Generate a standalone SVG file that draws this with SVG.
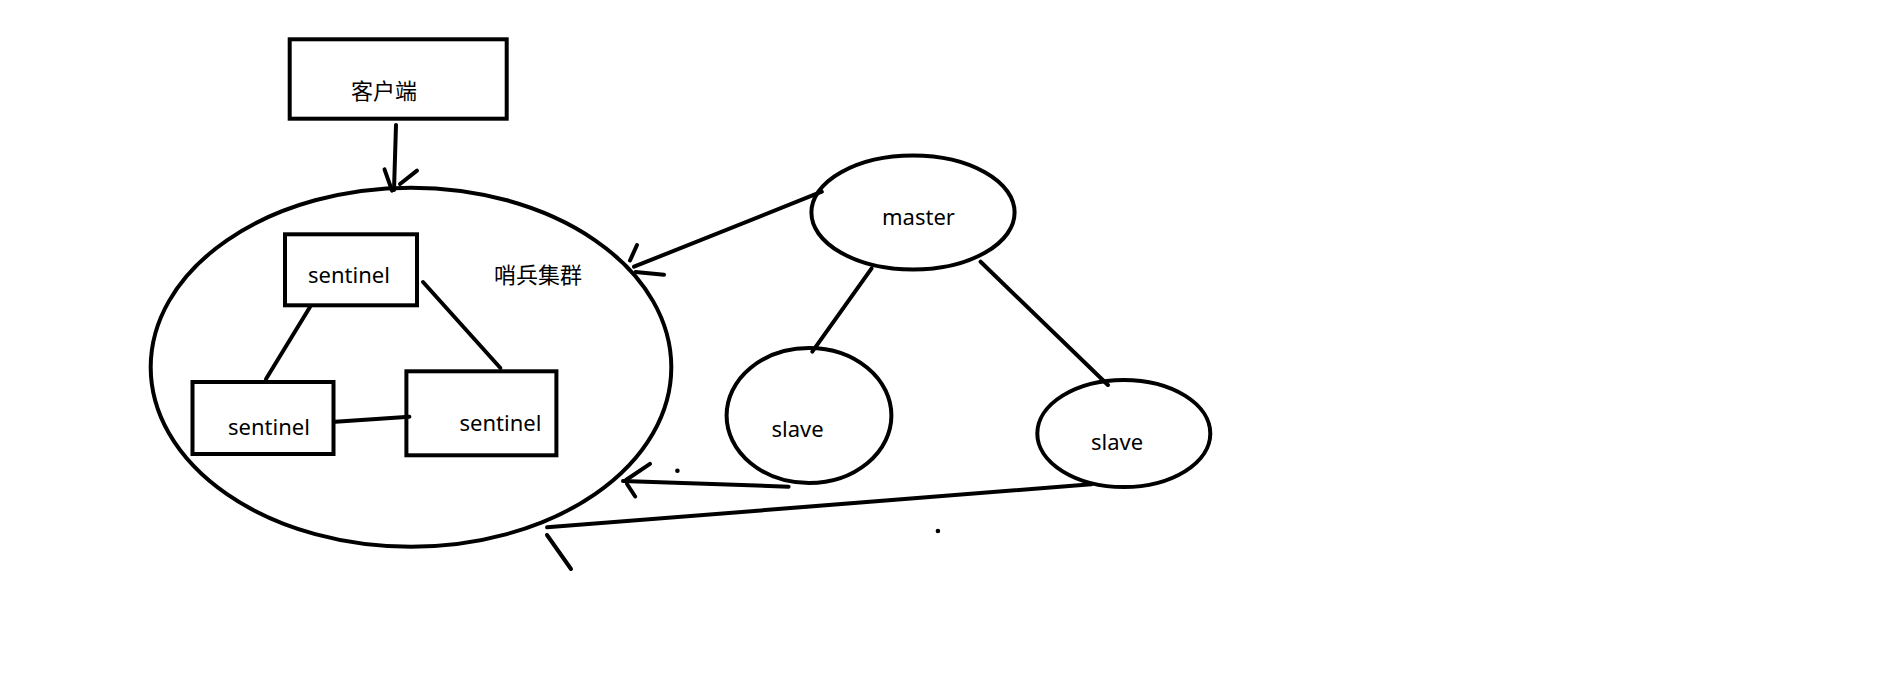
<svg xmlns="http://www.w3.org/2000/svg" width="1903" height="674" viewBox="0 0 1903 674">
<style>
.s{fill:none;stroke:#000;stroke-width:4;stroke-linecap:round;stroke-linejoin:round}
.n{fill:#fff;stroke:#000;stroke-width:4}
.t{font-family:"Noto Sans","Noto Sans CJK SC",sans-serif;font-size:22px;fill:#000}
.d{fill:#000}
</style>
<rect width="1903" height="674" fill="#fff"/>
<g id="cluster">
<ellipse class="n" cx="411" cy="367.2" rx="260.3" ry="179.5"/>
<text class="t" x="494" y="283">哨兵集群</text>
</g>
<g id="client">
<rect class="n" x="289.7" y="39.3" width="217" height="79.4"/>
<text class="t" x="351" y="99">客户端</text>
</g>
<g id="sentinel1">
<rect class="n" x="285" y="234.3" width="132" height="71"/>
<text class="t" x="308" y="283">sentinel</text>
</g>
<g id="sentinel2">
<rect class="n" x="192.5" y="382" width="141" height="72"/>
<text class="t" x="228" y="435">sentinel</text>
</g>
<g id="sentinel3">
<rect class="n" x="406.4" y="371.3" width="150" height="84"/>
<text class="t" x="459.5" y="431">sentinel</text>
</g>
<g id="master">
<ellipse class="n" cx="913" cy="212.5" rx="101.6" ry="57"/>
<text class="t" x="882" y="225">master</text>
</g>
<g id="slave1">
<ellipse class="n" cx="809" cy="415.5" rx="82.4" ry="67.5"/>
<text class="t" x="771.5" y="436.5">slave</text>
</g>
<g id="slave2">
<ellipse class="n" cx="1123.8" cy="433.5" rx="86.5" ry="53.5"/>
<text class="t" x="1091" y="450">slave</text>
</g>
<g id="connectors">
<path class="s" d="M396 125 L394 190"/>
<path class="s" d="M384.5 169.3 L392 190.7 M417 170.7 L400 184"/>
<path class="s" d="M310 307 L266 379"/>
<path class="s" d="M423 282 L500.4 368"/>
<path class="s" d="M335.5 421.7 L409.4 416.7"/>
<path class="s" d="M821.8 191.7 L634 266.7"/>
<path class="s" d="M637 245 L630 260.5 M635.5 272 L664 274.8"/>
<path class="s" d="M871.6 268.3 L812.3 351.7"/>
<path class="s" d="M980.6 261.7 L1107.9 385"/>
<path class="s" d="M788.6 486.7 L623 481"/>
<path class="s" d="M650 463.8 L626 480 M627 484 L635.2 496.5"/>
<path class="s" d="M1091.3 484.3 L547.1 527.3"/>
<path class="s" d="M547 535 L571 569"/>
<circle class="d" cx="677.4" cy="470.7" r="2.3"/>
<circle class="d" cx="937.9" cy="531" r="2.3"/>
</g>
</svg>
